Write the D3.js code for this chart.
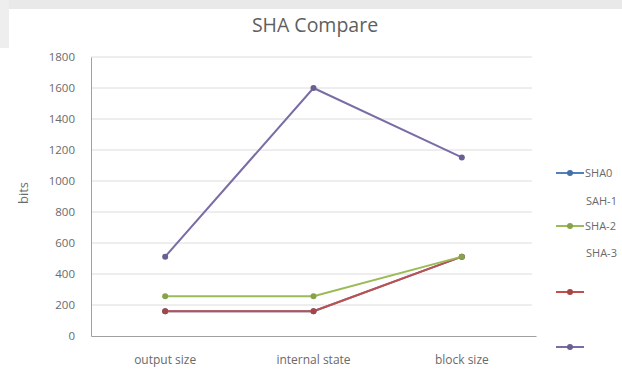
<!DOCTYPE html>
<html>
<head>
<meta charset="utf-8">
<script src="https://cdn.jsdelivr.net/npm/d3@7"></script>
<style>
  html, body { margin: 0; padding: 0; background: #fff; }
  svg { display: block; }
  text { font-family: "Open Sans", "Noto Sans", sans-serif; fill: #6a6a6a; }
</style>
</head>
<body>
<svg id="chart" width="622" height="369"></svg>
<script>
// Hash function comparison (bits)
const categories = ["output size", "internal state", "block size"];
const sha0 = [160, 160, 512];
const sah1 = [160, 160, 512];
const sha2 = [256, 256, 512];
const sha3 = [512, 1600, 1152];
const yTicks = [0, 200, 400, 600, 800, 1000, 1200, 1400, 1600, 1800];

const seriesNames = ["SHA0", "SAH-1", "SHA-2", "SHA-3"];
const seriesColors = ["#4f81bd", "#c0504d", "#9bbb59", "#7a6da6"];
const seriesValues = [sha0, sah1, sha2, sha3];

// Legend as laid out: text entries and swatch entries in separate rows
const legendLabels = ["SHA0", "SAH-1", "SHA-2", "SHA-3", "", "", ""];
const legendSwatches = ["#4f81bd", null, "#9bbb59", null, "#c0504d", null, "#7a6da6"];

const svg = d3.select("#chart");
const W = 622, H = 369;

// faint strip along the top edge
svg.append("rect").attr("x", 0).attr("y", 0).attr("width", W).attr("height", 9).attr("fill", "#e9e9e9");
svg.append("rect").attr("x", 0).attr("y", 0).attr("width", 9).attr("height", 48).attr("fill", "#eeeeee");

const m = { left: 91, right: 536, top: 57, bottom: 336 };

const x = d3.scaleBand().domain(categories).range([m.left, m.right]).padding(0);
const y = d3.scaleLinear().domain([0, 1800]).range([m.bottom, m.top]);
const cx = c => x(c) + x.bandwidth() / 2;

// title
svg.append("text")
  .attr("x", 315).attr("y", 32)
  .attr("text-anchor", "middle")
  .style("font-size", "19.5px")
  .style("fill", "#5f5f5f")
  .text("SHA Compare");

// horizontal gridlines
svg.append("g")
  .selectAll("line")
  .data(yTicks.filter(d => d > 0))
  .join("line")
  .attr("x1", m.left).attr("x2", m.right - 4)
  .attr("y1", d => y(d)).attr("y2", d => y(d))
  .attr("stroke", "#dcdcdc").attr("stroke-width", 1);

// y axis
const yAxis = d3.axisLeft(y).tickValues(yTicks).tickFormat(d3.format("d")).tickSize(0).tickPadding(16);
const gy = svg.append("g").attr("transform", `translate(${m.left},0)`).call(yAxis);
gy.select(".domain").attr("stroke", "#a0a0a0");
gy.selectAll("text").style("font-size", "11.5px").style("fill", "#6a6a6a").attr("font-family", null);

// x axis
const xAxis = d3.axisBottom(x).tickSize(0).tickPadding(19);
const gx = svg.append("g").attr("transform", `translate(0,${m.bottom})`).call(xAxis);
gx.select(".domain").attr("stroke", "#a0a0a0");
gx.selectAll("text").style("font-size", "12px").style("fill", "#6a6a6a").attr("font-family", null);

// y axis title
svg.append("text")
  .attr("transform", "translate(28,193) rotate(-90)")
  .attr("text-anchor", "middle")
  .style("font-size", "13px")
  .text("bits");

// series lines and markers
const line = d3.line().x((d, i) => cx(categories[i])).y(d => y(d));
seriesValues.forEach((vals, s) => {
  const g = svg.append("g");
  g.append("path")
    .datum(vals)
    .attr("d", line)
    .attr("fill", "none")
    .attr("stroke", seriesColors[s])
    .attr("stroke-width", 2)
    .attr("stroke-linejoin", "round");
  g.selectAll("circle")
    .data(vals)
    .join("circle")
    .attr("cx", (d, i) => cx(categories[i]))
    .attr("cy", d => y(d))
    .attr("r", 3)
    .attr("fill", d3.color(seriesColors[s]).darker(0.4));
});

// legend
const legendY = [173, 201, 226, 253, 292, 320, 347];
const lg = svg.append("g");
legendLabels.forEach((lab, i) => {
  const yy = legendY[i];
  const col = legendSwatches[i];
  if (col) {
    lg.append("line").attr("x1", 556).attr("x2", 584).attr("y1", yy).attr("y2", yy)
      .attr("stroke", col).attr("stroke-width", 2);
    lg.append("circle").attr("cx", 570).attr("cy", yy).attr("r", 3)
      .attr("fill", d3.color(col).darker(0.4));
  }
  if (lab) {
    lg.append("text").attr("x", col ? 585 : 586).attr("y", yy + 4)
      .style("font-size", "11px").text(lab);
  }
});
</script>
</body>
</html>
